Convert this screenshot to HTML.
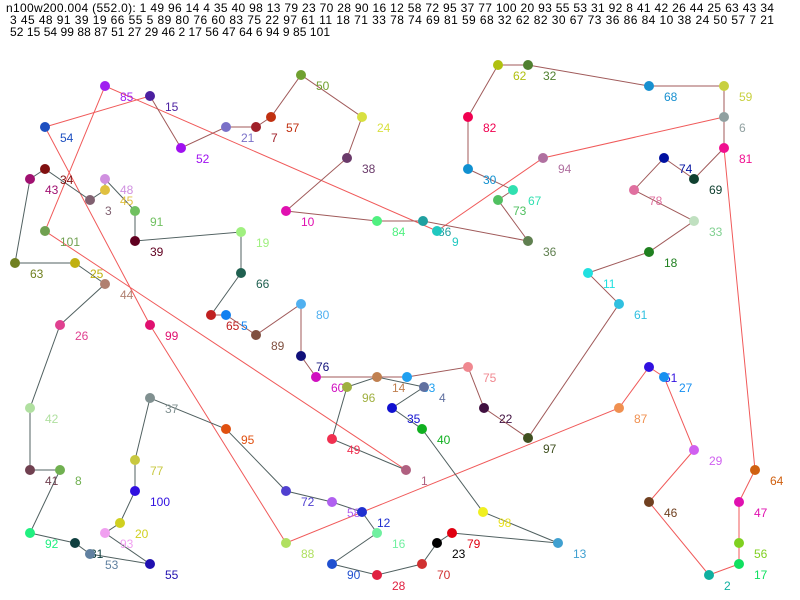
<!DOCTYPE html>
<html><head><meta charset="utf-8"><style>
body{margin:0;background:#fff;}
svg{display:block;font-family:"Liberation Sans",sans-serif;}
</style></head><body>
<svg width="800" height="600" viewBox="0 0 800 600">
<text x="6" y="12" font-size="12" fill="#000" textLength="768" lengthAdjust="spacing">n100w200.004 (552.0): 1 49 96 14 4 35 40 98 13 79 23 70 28 90 16 12 58 72 95 37 77 100 20 93 55 53 31 92 8 41 42 26 44 25 63 43 34</text>
<text x="10" y="24" font-size="12" fill="#000" textLength="764" lengthAdjust="spacing">3 45 48 91 39 19 66 55 5 89 80 76 60 83 75 22 97 61 11 18 71 33 78 74 69 81 59 68 32 62 82 30 67 73 36 86 84 10 38 24 50 57 7 21</text>
<text x="10" y="36" font-size="12" fill="#000" textLength="320" lengthAdjust="spacing">52 15 54 99 88 87 51 27 29 46 2 17 56 47 64 6 94 9 85 101</text>
<g fill="none" stroke-width="1">
<polyline stroke="#f05a5a" points="45,127 150,96"/>
<polyline stroke="#f05a5a" points="437,231 105,86 45,231 406,470"/>
<polyline stroke="#f05a5a" points="45,127 150,325 286,543 619,408 649,367 664,377 694,450 649,502 709,575 739,564 739,543 739,502 755,470 724,148"/>
<polyline stroke="#f05a5a" points="724,117 543,158 437,231"/>
<polyline stroke="#a05a5a" points="150,96 181,148 226,127 256,127 271,117 301,75 362,117 347,158 286,211 377,221 423,221 528,241 498,200 513,190 468,169 468,117 498,65 528,65 649,86 724,86 724,148 694,179 664,158 634,190 694,221 649,252 588,273 619,304 528,438 484,408 468,367 407,377 377,377 316,377 301,356 301,304 256,335 226,315 211,315"/>
<polyline stroke="#506060" points="211,315 241,273 241,232 135,241 135,211 105,179 105,190 90,200 45,169 30,179 15,263 75,263 105,284 60,325 30,408 30,470 60,470 30,533 75,543 90,554 150,564 105,533 120,523 135,491 135,460 150,398 226,429 286,491 332,502 362,512 377,533 332,564 377,575 422,564 437,543 452,533 558,543 483,512 422,429 392,408 424,387 377,377 347,387 332,439 406,470"/>
</g>
<g font-size="12">
<circle cx="105" cy="86" r="5" fill="#a020f0"/><text x="120" y="101" fill="#a020f0">85</text>
<circle cx="150" cy="96" r="5" fill="#4b1fa0"/><text x="165" y="111" fill="#4b1fa0">15</text>
<circle cx="45" cy="127" r="5" fill="#1c4fc0"/><text x="60" y="142" fill="#1c4fc0">54</text>
<circle cx="181" cy="148" r="5" fill="#a010f0"/><text x="196" y="163" fill="#a010f0">52</text>
<circle cx="226" cy="127" r="5" fill="#7a70c8"/><text x="241" y="142" fill="#7a70c8">21</text>
<circle cx="256" cy="127" r="5" fill="#a0202a"/><text x="271" y="142" fill="#a0202a">7</text>
<circle cx="271" cy="117" r="5" fill="#c03010"/><text x="286" y="132" fill="#c03010">57</text>
<circle cx="301" cy="75" r="5" fill="#70a030"/><text x="316" y="90" fill="#70a030">50</text>
<circle cx="362" cy="117" r="5" fill="#d8e040"/><text x="377" y="132" fill="#d8e040">24</text>
<circle cx="347" cy="158" r="5" fill="#6a3a6a"/><text x="362" y="173" fill="#6a3a6a">38</text>
<circle cx="286" cy="211" r="5" fill="#e010b0"/><text x="301" y="226" fill="#e010b0">10</text>
<circle cx="377" cy="221" r="5" fill="#50f080"/><text x="392" y="236" fill="#50f080">84</text>
<circle cx="423" cy="221" r="5" fill="#20a0a0"/><text x="438" y="236" fill="#20a0a0">86</text>
<circle cx="437" cy="231" r="5" fill="#20c8c0"/><text x="452" y="246" fill="#20c8c0">9</text>
<circle cx="30" cy="179" r="5" fill="#a01070"/><text x="45" y="194" fill="#a01070">43</text>
<circle cx="45" cy="169" r="5" fill="#801010"/><text x="60" y="184" fill="#801010">34</text>
<circle cx="90" cy="200" r="5" fill="#806070"/><text x="105" y="215" fill="#806070">3</text>
<circle cx="105" cy="179" r="5" fill="#d090e0"/><text x="120" y="194" fill="#d090e0">48</text>
<circle cx="105" cy="190" r="5" fill="#e0c040"/><text x="120" y="205" fill="#e0c040">45</text>
<circle cx="135" cy="211" r="5" fill="#70c060"/><text x="150" y="226" fill="#70c060">91</text>
<circle cx="135" cy="241" r="5" fill="#600020"/><text x="150" y="256" fill="#600020">39</text>
<circle cx="241" cy="232" r="5" fill="#a0f080"/><text x="256" y="247" fill="#a0f080">19</text>
<circle cx="241" cy="273" r="5" fill="#206050"/><text x="256" y="288" fill="#206050">66</text>
<circle cx="211" cy="315" r="5" fill="#c02020"/><text x="226" y="330" fill="#c02020">65</text>
<circle cx="226" cy="315" r="5" fill="#1080f0"/><text x="241" y="330" fill="#1080f0">5</text>
<circle cx="256" cy="335" r="5" fill="#805040"/><text x="271" y="350" fill="#805040">89</text>
<circle cx="301" cy="304" r="5" fill="#50b0f0"/><text x="316" y="319" fill="#50b0f0">80</text>
<circle cx="301" cy="356" r="5" fill="#10107a"/><text x="316" y="371" fill="#10107a">76</text>
<circle cx="316" cy="377" r="5" fill="#d010c0"/><text x="331" y="392" fill="#d010c0">60</text>
<circle cx="347" cy="387" r="5" fill="#a0b040"/><text x="362" y="402" fill="#a0b040">96</text>
<circle cx="377" cy="377" r="5" fill="#c08050"/><text x="392" y="392" fill="#c08050">14</text>
<circle cx="407" cy="377" r="5" fill="#20a0f0"/><text x="422" y="392" fill="#20a0f0">83</text>
<circle cx="424" cy="387" r="5" fill="#6070a0"/><text x="439" y="402" fill="#6070a0">4</text>
<circle cx="468" cy="367" r="5" fill="#f08890"/><text x="483" y="382" fill="#f08890">75</text>
<circle cx="484" cy="408" r="5" fill="#401040"/><text x="499" y="423" fill="#401040">22</text>
<circle cx="528" cy="438" r="5" fill="#405020"/><text x="543" y="453" fill="#405020">97</text>
<circle cx="392" cy="408" r="5" fill="#1010d0"/><text x="407" y="423" fill="#1010d0">35</text>
<circle cx="422" cy="429" r="5" fill="#10b020"/><text x="437" y="444" fill="#10b020">40</text>
<circle cx="332" cy="439" r="5" fill="#f03050"/><text x="347" y="454" fill="#f03050">49</text>
<circle cx="406" cy="470" r="5" fill="#b06080"/><text x="421" y="485" fill="#b06080">1</text>
<circle cx="150" cy="398" r="5" fill="#809090"/><text x="165" y="413" fill="#809090">37</text>
<circle cx="226" cy="429" r="5" fill="#e05010"/><text x="241" y="444" fill="#e05010">95</text>
<circle cx="286" cy="491" r="5" fill="#5040d0"/><text x="301" y="506" fill="#5040d0">72</text>
<circle cx="332" cy="502" r="5" fill="#b060f0"/><text x="347" y="517" fill="#b060f0">58</text>
<circle cx="362" cy="512" r="5" fill="#2030d0"/><text x="377" y="527" fill="#2030d0">12</text>
<circle cx="377" cy="533" r="5" fill="#70f0a0"/><text x="392" y="548" fill="#70f0a0">16</text>
<circle cx="332" cy="564" r="5" fill="#2050d0"/><text x="347" y="579" fill="#2050d0">90</text>
<circle cx="377" cy="575" r="5" fill="#e02040"/><text x="392" y="590" fill="#e02040">28</text>
<circle cx="422" cy="564" r="5" fill="#d03030"/><text x="437" y="579" fill="#d03030">70</text>
<circle cx="437" cy="543" r="5" fill="#000"/><text x="452" y="558" fill="#000">23</text>
<circle cx="452" cy="533" r="5" fill="#e00010"/><text x="467" y="548" fill="#e00010">79</text>
<circle cx="483" cy="512" r="5" fill="#f0f020"/><text x="498" y="527" fill="#e8e020">98</text>
<circle cx="558" cy="543" r="5" fill="#40a0d0"/><text x="573" y="558" fill="#40a0d0">13</text>
<circle cx="286" cy="543" r="5" fill="#b0e060"/><text x="301" y="558" fill="#b0e060">88</text>
<circle cx="135" cy="460" r="5" fill="#c8c840"/><text x="150" y="475" fill="#c8c840">77</text>
<circle cx="135" cy="491" r="5" fill="#3010e0"/><text x="150" y="506" fill="#3010e0">100</text>
<circle cx="120" cy="523" r="5" fill="#d0d020"/><text x="135" y="538" fill="#d0d020">20</text>
<circle cx="105" cy="533" r="5" fill="#f0a0f0"/><text x="120" y="548" fill="#f0a0f0">93</text>
<circle cx="150" cy="564" r="5" fill="#2010b0"/><text x="165" y="579" fill="#2010b0">55</text>
<circle cx="30" cy="470" r="5" fill="#704050"/><text x="45" y="485" fill="#704050">41</text>
<circle cx="60" cy="470" r="5" fill="#70b050"/><text x="75" y="485" fill="#70b050">8</text>
<circle cx="30" cy="533" r="5" fill="#20f080"/><text x="45" y="548" fill="#20f080">92</text>
<circle cx="75" cy="543" r="5" fill="#104040"/><text x="90" y="558" fill="#104040">31</text>
<circle cx="90" cy="554" r="5" fill="#6080a0"/><text x="105" y="569" fill="#6080a0">53</text>
<circle cx="30" cy="408" r="5" fill="#b0e0a0"/><text x="45" y="423" fill="#b0e0a0">42</text>
<circle cx="60" cy="325" r="5" fill="#e04090"/><text x="75" y="340" fill="#e04090">26</text>
<circle cx="105" cy="284" r="5" fill="#b08070"/><text x="120" y="299" fill="#b08070">44</text>
<circle cx="75" cy="263" r="5" fill="#c0b010"/><text x="90" y="278" fill="#c0b010">25</text>
<circle cx="15" cy="263" r="5" fill="#708020"/><text x="30" y="278" fill="#708020">63</text>
<circle cx="45" cy="231" r="5" fill="#70a050"/><text x="60" y="246" fill="#70a050">101</text>
<circle cx="150" cy="325" r="5" fill="#e01070"/><text x="165" y="340" fill="#e01070">99</text>
<circle cx="498" cy="65" r="5" fill="#b0c010"/><text x="513" y="80" fill="#b0c010">62</text>
<circle cx="528" cy="65" r="5" fill="#508030"/><text x="543" y="80" fill="#508030">32</text>
<circle cx="649" cy="86" r="5" fill="#1890d0"/><text x="664" y="101" fill="#1890d0">68</text>
<circle cx="724" cy="86" r="5" fill="#c8d040"/><text x="739" y="101" fill="#c8d040">59</text>
<circle cx="724" cy="117" r="5" fill="#90a0a0"/><text x="739" y="132" fill="#90a0a0">6</text>
<circle cx="724" cy="148" r="5" fill="#f01090"/><text x="739" y="163" fill="#f01090">81</text>
<circle cx="468" cy="117" r="5" fill="#f00050"/><text x="483" y="132" fill="#f00050">82</text>
<circle cx="468" cy="169" r="5" fill="#1090d0"/><text x="483" y="184" fill="#1090d0">30</text>
<circle cx="513" cy="190" r="5" fill="#30e0b0"/><text x="528" y="205" fill="#30e0b0">67</text>
<circle cx="498" cy="200" r="5" fill="#50c060"/><text x="513" y="215" fill="#50c060">73</text>
<circle cx="528" cy="241" r="5" fill="#608050"/><text x="543" y="256" fill="#608050">36</text>
<circle cx="543" cy="158" r="5" fill="#b070a0"/><text x="558" y="173" fill="#b070a0">94</text>
<circle cx="664" cy="158" r="5" fill="#0010a0"/><text x="679" y="173" fill="#0010a0">74</text>
<circle cx="694" cy="179" r="5" fill="#104030"/><text x="709" y="194" fill="#104030">69</text>
<circle cx="634" cy="190" r="5" fill="#e070a0"/><text x="649" y="205" fill="#e070a0">78</text>
<circle cx="694" cy="221" r="5" fill="#c0e0c0"/><text x="709" y="236" fill="#80d090">33</text>
<circle cx="649" cy="252" r="5" fill="#208020"/><text x="664" y="267" fill="#208020">18</text>
<circle cx="588" cy="273" r="5" fill="#20e0e0"/><text x="603" y="288" fill="#20e0e0">11</text>
<circle cx="619" cy="304" r="5" fill="#30c0e0"/><text x="634" y="319" fill="#30c0e0">61</text>
<circle cx="649" cy="367" r="5" fill="#3010e0"/><text x="664" y="382" fill="#3010e0">51</text>
<circle cx="664" cy="377" r="5" fill="#1890f0"/><text x="679" y="392" fill="#1890f0">27</text>
<circle cx="619" cy="408" r="5" fill="#f09050"/><text x="634" y="423" fill="#f09050">87</text>
<circle cx="694" cy="450" r="5" fill="#d060f0"/><text x="709" y="465" fill="#d060f0">29</text>
<circle cx="755" cy="470" r="5" fill="#d06010"/><text x="770" y="485" fill="#d06010">64</text>
<circle cx="739" cy="502" r="5" fill="#e010b0"/><text x="754" y="517" fill="#e010b0">47</text>
<circle cx="649" cy="502" r="5" fill="#704020"/><text x="664" y="517" fill="#704020">46</text>
<circle cx="739" cy="543" r="5" fill="#80d020"/><text x="754" y="558" fill="#80d020">56</text>
<circle cx="739" cy="564" r="5" fill="#10e060"/><text x="754" y="579" fill="#10e060">17</text>
<circle cx="709" cy="575" r="5" fill="#10b0a0"/><text x="724" y="590" fill="#10b0a0">2</text>
</g>
</svg>
</body></html>
